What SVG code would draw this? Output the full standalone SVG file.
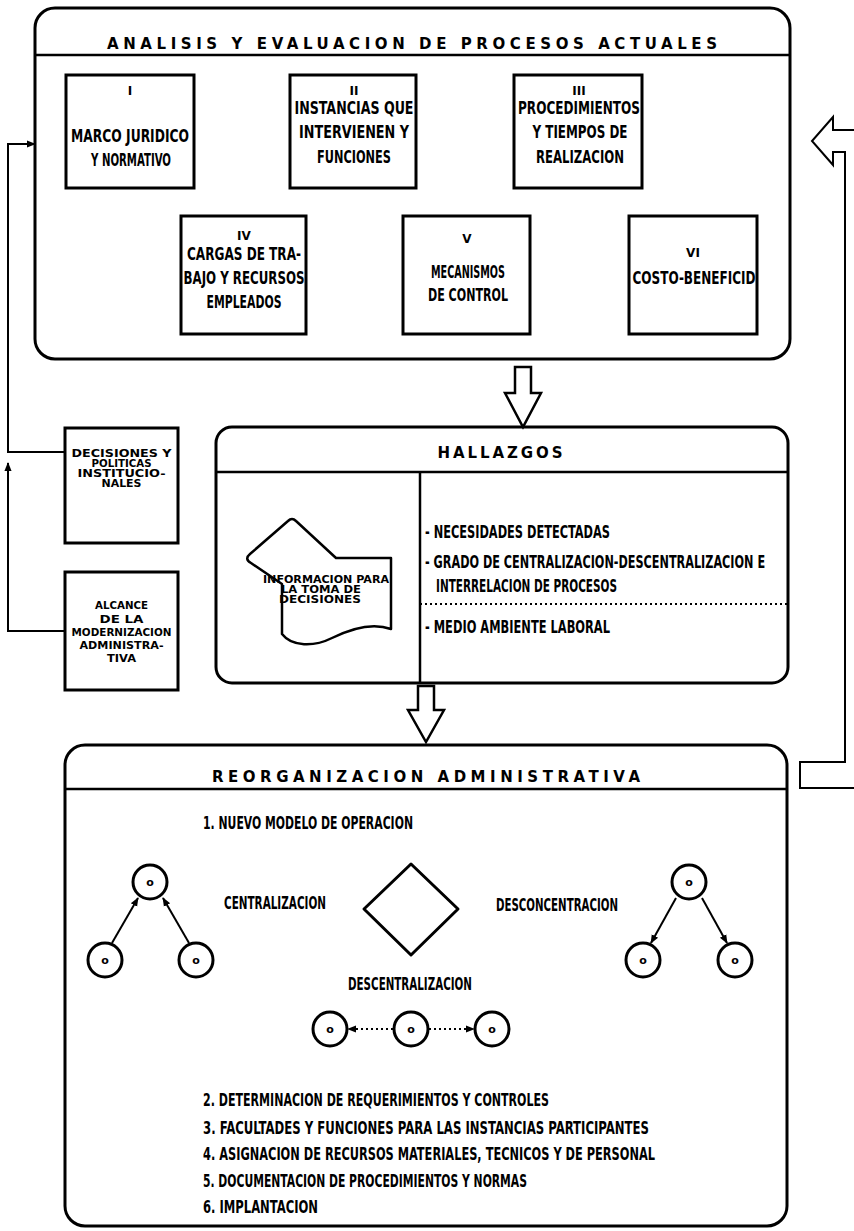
<svg xmlns="http://www.w3.org/2000/svg" width="854" height="1231" viewBox="0 0 854 1231">
<defs>
<style>
.frame{fill:#fff;stroke:#000;stroke-width:3}
.ln{fill:none;stroke:#000;stroke-width:2.5}
.con{fill:none;stroke:#000;stroke-width:2}
.blk{fill:#fff;stroke:#000;stroke-width:2.5;stroke-linejoin:miter}
.cir{fill:#fff;stroke:#000;stroke-width:3}
.t{font-family:"Liberation Sans Narrow","DejaVu Sans Condensed","Liberation Sans",sans-serif;font-weight:bold;font-size:17px;fill:#000}
.h{font-family:"DejaVu Sans","Liberation Sans",sans-serif;font-weight:bold;font-size:15px;fill:#000}
.s{font-family:"DejaVu Sans","Liberation Sans",sans-serif;font-weight:bold;font-size:10.5px;fill:#000}
.n{font-family:"DejaVu Sans","Liberation Sans",sans-serif;font-weight:bold;font-size:12px;fill:#000}
.o{font-family:"DejaVu Sans","Liberation Sans",sans-serif;font-weight:bold;font-size:11px;fill:#000;text-anchor:middle}
.c{text-anchor:middle}
</style>
<marker id="ah" viewBox="0 0 10 10" refX="9" refY="5" markerWidth="9" markerHeight="9" markerUnits="userSpaceOnUse" orient="auto"><path d="M0,1 L10,5 L0,9 Z" fill="#000"/></marker>
</defs>
<rect width="854" height="1231" fill="#fff"/>

<g id="analisis">
<rect x="35" y="8" width="755" height="351" rx="20" class="frame"/>
<text x="412" y="49" class="h c" textLength="610" lengthAdjust="spacing">ANALISIS Y EVALUACION DE PROCESOS ACTUALES</text>
<line x1="35" y1="55" x2="790" y2="55" class="ln"/>
</g>

<g id="box-i">
<rect x="66" y="75" width="128" height="113" class="frame"/>
<text x="130" y="95" class="n c">I</text>
<text x="130" y="142" class="t c" textLength="118" lengthAdjust="spacingAndGlyphs">MARCO JURIDICO</text>
<text x="131" y="166" class="t c" textLength="80" lengthAdjust="spacingAndGlyphs">Y NORMATIVO</text>
</g>
<g id="box-ii">
<rect x="290" y="75" width="126" height="113" class="frame"/>
<text x="354" y="95" class="n c">II</text>
<text x="354" y="114" class="t c" textLength="119" lengthAdjust="spacingAndGlyphs">INSTANCIAS QUE</text>
<text x="354" y="138" class="t c" textLength="110" lengthAdjust="spacingAndGlyphs">INTERVIENEN Y</text>
<text x="354" y="163" class="t c" textLength="74" lengthAdjust="spacingAndGlyphs">FUNCIONES</text>
</g>
<g id="box-iii">
<rect x="514" y="75" width="128" height="113" class="frame"/>
<text x="579" y="95" class="n c">III</text>
<text x="579" y="114" class="t c" textLength="122" lengthAdjust="spacingAndGlyphs">PROCEDIMIENTOS</text>
<text x="580" y="138" class="t c" textLength="95" lengthAdjust="spacingAndGlyphs">Y TIEMPOS DE</text>
<text x="580" y="163" class="t c" textLength="88" lengthAdjust="spacingAndGlyphs">REALIZACION</text>
</g>
<g id="box-iv">
<rect x="181" y="216" width="125" height="118" class="frame"/>
<text x="244" y="240" class="n c">IV</text>
<text x="244" y="260" class="t c" textLength="114" lengthAdjust="spacingAndGlyphs">CARGAS DE TRA-</text>
<text x="244" y="284" class="t c" textLength="121" lengthAdjust="spacingAndGlyphs">BAJO Y RECURSOS</text>
<text x="244" y="308" class="t c" textLength="75" lengthAdjust="spacingAndGlyphs">EMPLEADOS</text>
</g>
<g id="box-v">
<rect x="403" y="216" width="127" height="118" class="frame"/>
<text x="467" y="243" class="n c">V</text>
<text x="468" y="278" class="t c" textLength="74" lengthAdjust="spacingAndGlyphs">MECANISMOS</text>
<text x="468" y="301" class="t c" textLength="80" lengthAdjust="spacingAndGlyphs">DE CONTROL</text>
</g>
<g id="box-vi">
<rect x="629" y="216" width="128" height="118" class="frame"/>
<text x="693" y="257" class="n c">VI</text>
<text x="694" y="284" class="t c" textLength="123" lengthAdjust="spacingAndGlyphs">COSTO-BENEFICID</text>
</g>

<g id="decisiones">
<rect x="65" y="428" width="113" height="115" class="frame"/>
<text x="121.5" y="457" class="s c" textLength="100" lengthAdjust="spacingAndGlyphs">DECISIONES Y</text>
<text x="121.5" y="467" class="s c" textLength="60" lengthAdjust="spacingAndGlyphs">POLITICAS</text>
<text x="121.5" y="477" class="s c" textLength="88" lengthAdjust="spacingAndGlyphs">INSTITUCIO-</text>
<text x="121.5" y="487" class="s c" textLength="40" lengthAdjust="spacingAndGlyphs">NALES</text>
</g>

<g id="alcance">
<rect x="65" y="572" width="113" height="118" class="frame"/>
<text x="121.5" y="609" class="s c" textLength="53" lengthAdjust="spacingAndGlyphs">ALCANCE</text>
<text x="121.5" y="623" class="s c" textLength="44" lengthAdjust="spacingAndGlyphs">DE LA</text>
<text x="121.5" y="636" class="s c" textLength="100" lengthAdjust="spacingAndGlyphs">MODERNIZACION</text>
<text x="121.5" y="649" class="s c" textLength="84" lengthAdjust="spacingAndGlyphs">ADMINISTRA-</text>
<text x="121.5" y="662" class="s c" textLength="29" lengthAdjust="spacingAndGlyphs">TIVA</text>
</g>

<g id="hallazgos">
<rect x="216" y="427" width="572" height="256" rx="16" class="frame"/>
<text x="500" y="458" class="h c" textLength="125" lengthAdjust="spacing">HALLAZGOS</text>
<line x1="216" y1="472" x2="788" y2="472" class="ln"/>
<line x1="420" y1="472" x2="420" y2="683" class="ln"/>
<line x1="420" y1="604" x2="788" y2="604" fill="none" stroke="#000" stroke-width="2" stroke-dasharray="2,3"/>
<text x="425" y="538" class="t" textLength="185" lengthAdjust="spacingAndGlyphs">- NECESIDADES DETECTADAS</text>
<text transform="translate(425 568) scale(0.78 1)" class="t" textLength="436" lengthAdjust="spacingAndGlyphs">- GRADO DE CENTRALIZACION-DESCENTRALIZACION E</text>
<text x="436" y="592" class="t" textLength="181" lengthAdjust="spacingAndGlyphs">INTERRELACION DE PROCESOS</text>
<text x="425" y="633" class="t" textLength="185" lengthAdjust="spacingAndGlyphs">- MEDIO AMBIENTE LABORAL</text>
</g>

<g id="informacion">
<path d="M336,558 H391 V629 C372,622 352,628 332,638 C314,647 292,647 282,634 V584 L251,563 Q244,559 250,554 L288,521 Q292,517 296,521 Z" fill="#fff" stroke="#000" stroke-width="2.5" stroke-linejoin="round"/>
<text x="326" y="583" class="s c" textLength="126" lengthAdjust="spacingAndGlyphs">INFORMACION PARA</text>
<text x="321" y="593" class="s c" textLength="80" lengthAdjust="spacingAndGlyphs">LA TOMA DE</text>
<text x="320" y="603" class="s c" textLength="82" lengthAdjust="spacingAndGlyphs">DECISIONES</text>
</g>

<g id="reorganizacion">
<rect x="65" y="745" width="722" height="481" rx="20" class="frame"/>
<text x="426" y="782" class="h c" textLength="428" lengthAdjust="spacing">REORGANIZACION ADMINISTRATIVA</text>
<line x1="65" y1="789" x2="787" y2="789" class="ln"/>
<text x="203" y="829" class="t" textLength="210" lengthAdjust="spacingAndGlyphs">1. NUEVO MODELO DE OPERACION</text>
<text x="224" y="909" class="t" textLength="102" lengthAdjust="spacingAndGlyphs">CENTRALIZACION</text>
<text x="496" y="911" class="t" textLength="122" lengthAdjust="spacingAndGlyphs">DESCONCENTRACION</text>
<text x="348" y="990" class="t" textLength="124" lengthAdjust="spacingAndGlyphs">DESCENTRALIZACION</text>
<path d="M411,864 L458,909 L411,955 L364,909 Z" fill="#fff" stroke="#000" stroke-width="3" stroke-linejoin="round"/>
<text x="203" y="1106" class="t" textLength="346" lengthAdjust="spacingAndGlyphs">2. DETERMINACION DE REQUERIMIENTOS Y CONTROLES</text>
<text x="203" y="1134" class="t" textLength="446" lengthAdjust="spacingAndGlyphs">3. FACULTADES Y FUNCIONES PARA LAS INSTANCIAS PARTICIPANTES</text>
<text x="203" y="1160" class="t" textLength="452" lengthAdjust="spacingAndGlyphs">4. ASIGNACION DE RECURSOS MATERIALES, TECNICOS Y DE PERSONAL</text>
<text x="203" y="1187" class="t" textLength="324" lengthAdjust="spacingAndGlyphs">5. DOCUMENTACION DE PROCEDIMIENTOS Y NORMAS</text>
<text x="203" y="1213" class="t" textLength="115" lengthAdjust="spacingAndGlyphs">6. IMPLANTACION</text>
</g>

<g id="nodos-centralizacion">
<circle cx="150" cy="882" r="17" class="cir"/><text x="150" y="886" class="o">o</text>
<circle cx="105" cy="960" r="17" class="cir"/><text x="105" y="964" class="o">o</text>
<circle cx="196" cy="960" r="17" class="cir"/><text x="196" y="964" class="o">o</text>
</g>
<g id="nodos-desconcentracion">
<circle cx="689" cy="882" r="17" class="cir"/><text x="689" y="886" class="o">o</text>
<circle cx="643" cy="960" r="17" class="cir"/><text x="643" y="964" class="o">o</text>
<circle cx="735" cy="960" r="17" class="cir"/><text x="735" y="964" class="o">o</text>
</g>
<g id="nodos-descentralizacion">
<circle cx="330" cy="1029" r="17" class="cir"/><text x="330" y="1033" class="o">o</text>
<circle cx="411" cy="1029" r="17" class="cir"/><text x="411" y="1033" class="o">o</text>
<circle cx="492" cy="1029" r="17" class="cir"/><text x="492" y="1033" class="o">o</text>
</g>

<g id="connectors">
<polyline points="65,452 8,452 8,144 35,144" class="con" marker-end="url(#ah)"/>
<polyline points="65,631 8,631 8,463" class="con" marker-end="url(#ah)"/>
<path d="M515,367 H531 V393 H541 L523,427 L505,393 H515 Z" class="blk"/>
<path d="M418,686 H434 V710 H444 L426,742 L408,710 H418 Z" class="blk"/>
<path d="M854,130 H833 V117 L812,141 L833,165 V152 H845 V762 H800 V788 H854" class="con" stroke-width="2.5"/>
<line x1="112" y1="943" x2="138" y2="898" class="con" stroke-width="1.8" marker-end="url(#ah)"/>
<line x1="189" y1="943" x2="163" y2="898" class="con" stroke-width="1.8" marker-end="url(#ah)"/>
<line x1="676" y1="898" x2="651" y2="943" class="con" stroke-width="1.8" marker-end="url(#ah)"/>
<line x1="702" y1="898" x2="727" y2="943" class="con" stroke-width="1.8" marker-end="url(#ah)"/>
<line x1="393" y1="1029" x2="348" y2="1029" class="con" stroke-width="2" stroke-dasharray="2,3" marker-end="url(#ah)"/>
<line x1="429" y1="1029" x2="474" y2="1029" class="con" stroke-width="2" stroke-dasharray="2,3" marker-end="url(#ah)"/>
</g>
</svg>
